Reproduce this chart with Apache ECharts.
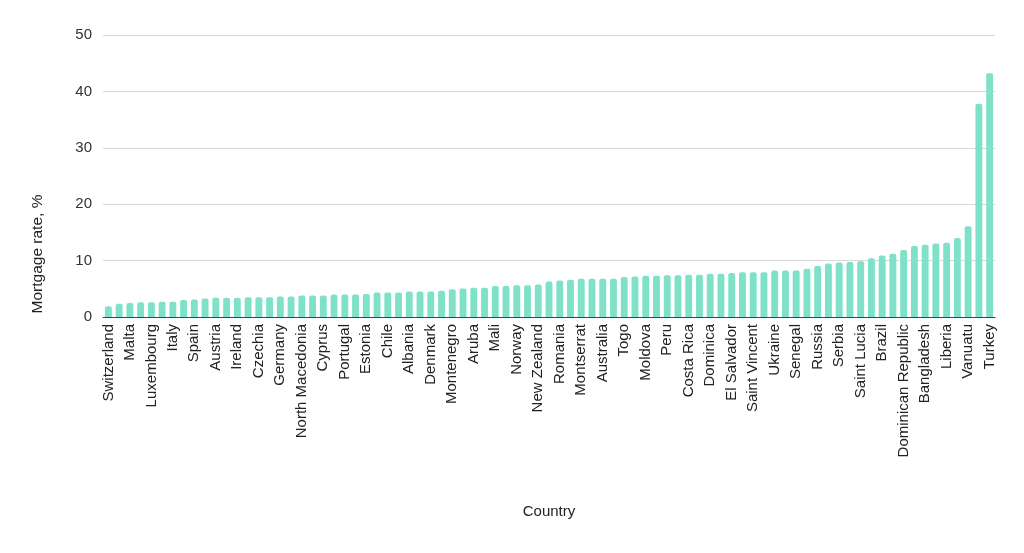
<!DOCTYPE html>
<html>
<head>
<meta charset="utf-8">
<script src="https://cdn.jsdelivr.net/npm/echarts@6/dist/echarts.min.js"></script>
<style>
html,body{margin:0;padding:0;background:#fff;}
#chart{width:1024px;height:553px;}
</style>
</head>
<body>
<div id="chart"></div>
<script>
const countries = [
  "Switzerland","Finland","Malta","France","Luxembourg","Netherlands","Italy","Belgium","Spain","Slovakia",
  "Austria","Greece","Ireland","Slovenia","Czechia","Croatia","Germany","Bosnia and Herzegovina","North Macedonia","Lithuania",
  "Cyprus","Latvia","Portugal","Sweden","Estonia","Bulgaria","Chile","Canada","Albania","Israel",
  "Denmark","Hungary","Montenegro","Poland","Aruba","Thailand","Mali","Malaysia","Norway","Curaçao",
  "New Zealand","United Kingdom","Romania","United States","Montserrat","Burkina Faso","Australia","Benin","Togo","Côte d'Ivoire",
  "Moldova","Guinea-Bissau","Peru","Niger","Costa Rica","Grenada","Dominica","Antigua and Barbuda","El Salvador","Saint Kitts and Nevis",
  "Saint Vincent","Anguilla","Ukraine","Georgia","Senegal","Guatemala","Russia","Armenia","Serbia","Mexico",
  "Saint Lucia","Colombia","Brazil","South Africa","Dominican Republic","Jamaica","Bangladesh","Kenya","Liberia","Nigeria",
  "Vanuatu","Argentina","Turkey"
];
const mortgageRates = [
  1.9,2.35,2.5,2.6,2.6,2.7,2.7,3.0,3.1,3.3,
  3.4,3.4,3.4,3.5,3.5,3.5,3.65,3.65,3.8,3.8,
  3.8,4.0,4.0,4.0,4.1,4.35,4.35,4.35,4.5,4.5,
  4.5,4.65,4.9,5.05,5.2,5.2,5.5,5.5,5.65,5.65,
  5.75,6.3,6.45,6.6,6.8,6.8,6.8,6.8,7.1,7.2,
  7.3,7.3,7.4,7.4,7.5,7.5,7.65,7.65,7.8,7.95,
  7.95,7.95,8.25,8.25,8.25,8.55,9.05,9.5,9.65,9.75,
  9.9,10.4,10.9,11.2,11.9,12.6,12.8,13.05,13.15,14.0,
  16.1,37.8,43.2
];
const yTicks = { min: 0, max: 50, interval: 10 };
const xAxisTitle = "Country";
const yAxisTitle = "Mortgage rate, %";

const chart = echarts.init(document.getElementById('chart'));
const font = 'Liberation Sans, Arial, sans-serif';
chart.setOption({
  animation: false,
  backgroundColor: '#ffffff',
  grid: { left: 103, right: 29, top: 35, bottom: 236, containLabel: false },
  xAxis: {
    type: 'category',
    data: countries,
    name: xAxisTitle,
    nameLocation: 'middle',
    nameGap: 187,
    nameTextStyle: { fontFamily: font, fontSize: 15, color: '#222' },
    axisLine: { lineStyle: { color: '#444', width: 1 } },
    axisTick: { show: false },
    axisLabel: {
      interval: 1,
      rotate: 90,
      margin: 7,
      fontFamily: font,
      fontSize: 15,
      color: '#222'
    }
  },
  yAxis: {
    type: 'value',
    min: yTicks.min,
    max: yTicks.max,
    interval: yTicks.interval,
    axisLine: { show: false },
    axisTick: { show: false },
    axisLabel: { margin: 11, fontFamily: font, fontSize: 15, color: '#333' },
    splitLine: { lineStyle: { color: '#d9d9d9', width: 1 } }
  },
  graphic: [{
    type: 'text',
    x: 38,
    y: 254,
    rotation: Math.PI / 2,
    style: {
      text: yAxisTitle,
      fontFamily: font,
      fontSize: 15.5,
      fill: '#222',
      align: 'center',
      verticalAlign: 'middle'
    }
  }],
  series: [{
    type: 'bar',
    data: mortgageRates,
    barCategoryGap: '36%',
    itemStyle: { color: '#7fe2c8', borderRadius: [2, 2, 0, 0] }
  }]
});
</script>
</body>
</html>
